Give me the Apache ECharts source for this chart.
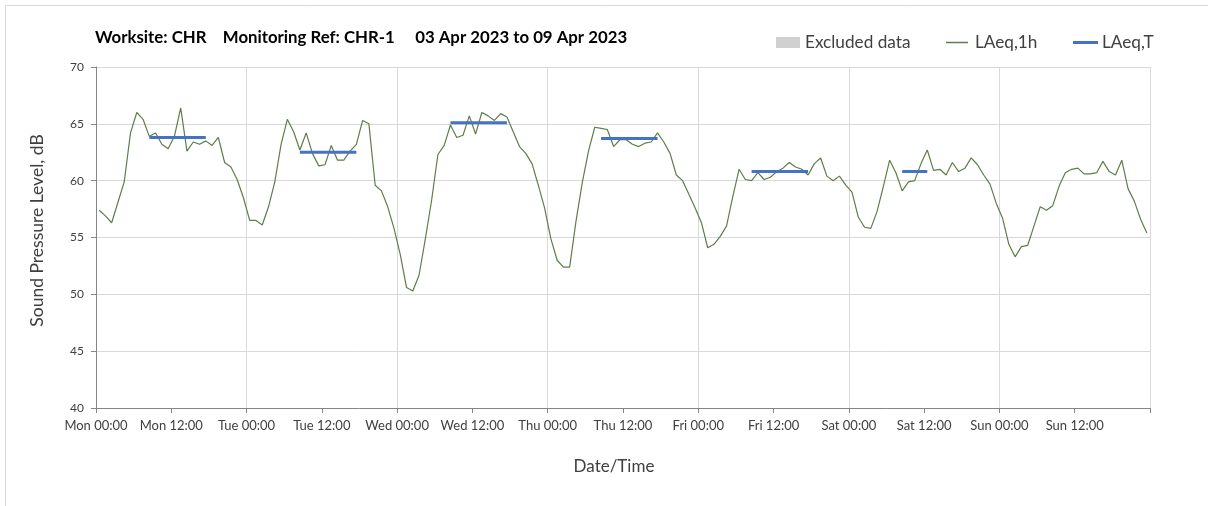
<!DOCTYPE html>
<html>
<head>
<meta charset="utf-8">
<script src="https://cdn.jsdelivr.net/npm/echarts@6/dist/echarts.min.js"></script>
<style>html,body{margin:0;padding:0;background:#fff;}#chart{width:1208px;height:506px;}</style>
</head>
<body>
<div id="chart"></div>
<script>
// Tick labels every 12 hours
var tickLabels = ['Mon 00:00','Mon 12:00','Tue 00:00','Tue 12:00','Wed 00:00','Wed 12:00','Thu 00:00','Thu 12:00','Fri 00:00','Fri 12:00','Sat 00:00','Sat 12:00','Sun 00:00','Sun 12:00'];

// Hourly LAeq,1h values, Mon 00:00 .. Sun 23:00
var laeq1h = [
  57.4,56.9,56.3,58.1,59.9,64.2,66.0,65.4,63.9,64.2,63.2,62.8,63.9,66.4,62.6,63.4,63.2,63.5,63.1,63.8,61.6,61.2,60.1,58.5,
  56.5,56.5,56.1,57.7,59.9,63.2,65.4,64.3,62.7,64.2,62.4,61.3,61.4,63.1,61.8,61.8,62.6,63.2,65.3,65.0,59.6,59.1,57.7,55.8,
  53.5,50.6,50.3,51.7,54.9,58.3,62.3,63.1,64.9,63.8,64.0,65.7,64.1,66.0,65.7,65.3,65.9,65.6,64.3,63.0,62.4,61.5,59.6,57.6,
  54.9,53.0,52.4,52.4,56.4,59.8,62.6,64.7,64.6,64.5,63.0,63.6,63.6,63.2,63.0,63.3,63.4,64.2,63.4,62.4,60.5,60.0,58.8,57.6,
  56.3,54.1,54.4,55.1,56.0,58.6,61.0,60.1,60.0,60.7,60.1,60.3,60.8,61.1,61.6,61.2,61.0,60.5,61.5,62.0,60.4,60.0,60.4,59.6,
  59.0,56.8,55.9,55.8,57.3,59.5,61.8,60.7,59.1,59.9,60.0,61.5,62.7,60.9,61.0,60.5,61.6,60.8,61.1,62.0,61.4,60.5,59.7,58.0,
  56.7,54.4,53.3,54.2,54.3,56.0,57.7,57.4,57.8,59.5,60.7,61.0,61.1,60.6,60.6,60.7,61.7,60.8,60.5,61.8,59.3,58.2,56.6,55.4
];

// LAeq,T daytime periods (hour index of first and last hourly value) and levels
var periodStart = [8, 32, 56, 80, 104, 128];
var periodEnd   = [17, 41, 65, 89, 113, 132];
var periodLevel = [63.8, 62.5, 65.1, 63.7, 60.8, 60.8];

var yTicks = [40, 45, 50, 55, 60, 65, 70];

var lineData = laeq1h.map(function (v, i) { return [i + 0.5, v]; });
var tData = laeq1h.map(function (v, i) {
  for (var p = 0; p < periodStart.length; p++) {
    if (i >= periodStart[p] && i <= periodEnd[p]) return [i + 0.5, periodLevel[p]];
  }
  return [i + 0.5, null];
});

var FONT = 'Lato';
var chart = echarts.init(document.getElementById('chart'), null, {renderer: 'canvas'});
chart.setOption({
  backgroundColor: '#ffffff',
  animation: false,
  textStyle: {fontFamily: FONT},
  title: {
    text: 'Worksite: CHR    Monitoring Ref: CHR-1     03 Apr 2023 to 09 Apr 2023',
    left: 90, top: 24,
    textStyle: {fontFamily: FONT, fontSize: 16.8, fontWeight: 'bold', color: '#000000'}
  },
  legend: [
    {data: ['Excluded data'], left: 771, top: 29, icon: 'rect', itemWidth: 24, itemHeight: 11, itemGap: 0,
     textStyle: {fontFamily: FONT, fontSize: 17.2, color: '#404040', padding: [0, 0, 0, 0]}},
    {data: ['LAeq,1h'], left: 941, top: 29, icon: 'rect', itemWidth: 22, itemHeight: 1.5, itemGap: 0,
     textStyle: {fontFamily: FONT, fontSize: 17.2, color: '#404040', padding: [0, 0, 0, 2]}},
    {data: ['LAeq,T'], left: 1068, top: 29, icon: 'rect', itemWidth: 25, itemHeight: 3, itemGap: 0,
     textStyle: {fontFamily: FONT, fontSize: 17.2, color: '#404040', padding: [0, 0, 0, -1]}}
  ],
  graphic: [{
    type: 'rect', silent: true,
    shape: {x: 5.5, y: 5.5, width: 1220, height: 520},
    style: {fill: 'none', stroke: '#d9d9d9', lineWidth: 1}
  }],
  grid: {left: 96, right: 58, top: 67, bottom: 98, containLabel: false},
  xAxis: [{
    type: 'value', min: 0, max: 168, interval: 12,
    name: 'Date/Time', nameLocation: 'middle', nameGap: 50,
    nameTextStyle: {fontFamily: FONT, fontSize: 17, color: '#404040', padding: [0, 18, 0, 0]},
    axisLine: {show: true, lineStyle: {color: '#868686', width: 1}},
    axisTick: {show: true, length: 5, lineStyle: {color: '#868686'}},
    axisLabel: {
      fontFamily: FONT, fontSize: 13, color: '#404040', margin: 11,
      formatter: function (v) { var i = Math.round(v / 12); return i < tickLabels.length ? tickLabels[i] : ''; }
    },
    splitLine: {show: false}
  }, {
    type: 'value', min: 0, max: 168, interval: 24, position: 'bottom',
    axisLine: {show: false}, axisTick: {show: false}, axisLabel: {show: false},
    splitLine: {show: true, lineStyle: {color: '#d9d9d9', width: 1}}
  }],
  yAxis: {
    type: 'value', min: yTicks[0], max: yTicks[yTicks.length - 1], interval: 5,
    name: 'Sound Pressure Level, dB', nameLocation: 'middle', nameGap: 50,
    nameTextStyle: {fontFamily: FONT, fontSize: 17.5, color: '#404040', padding: [0, 0, 0, 14]},
    axisLine: {show: true, lineStyle: {color: '#868686', width: 1}},
    axisTick: {show: true, length: 5, lineStyle: {color: '#868686'}},
    axisLabel: {fontFamily: FONT, fontSize: 12, color: '#404040', margin: 12},
    splitLine: {show: true, lineStyle: {color: '#d9d9d9', width: 1}}
  },
  series: [
    {name: 'Excluded data', type: 'line', data: [], color: '#d0d0d0', itemStyle: {color: '#d0d0d0'}},
    {name: 'LAeq,1h', type: 'line', data: lineData, showSymbol: false, symbol: 'none',
     color: '#5e7d4b', itemStyle: {color: '#5e7d4b'}, lineStyle: {color: '#5e7d4b', width: 1.2}, z: 2},
    {name: 'LAeq,T', type: 'line', data: tData, showSymbol: false, symbol: 'none', connectNulls: false,
     color: '#4472c4', itemStyle: {color: '#4472c4'}, lineStyle: {color: '#4472c4', width: 3}, z: 3}
  ]
});
</script>
</body>
</html>
